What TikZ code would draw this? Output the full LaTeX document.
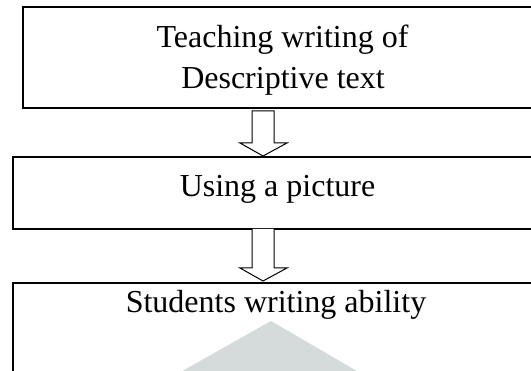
\documentclass[tikz,border=0pt]{standalone}
\usepackage{fontspec}
\setmainfont{Liberation Serif}
\usetikzlibrary{calc}
\definecolor{wmgray}{RGB}{213,219,218}
\tikzset{
  box/.style={draw=black, line width=1.4pt, rectangle, inner sep=0pt, outer sep=0pt, anchor=north west},
  label text/.style={font=\fontsize{32}{40.5}\selectfont, inner sep=0pt, anchor=base},
  blockarrow/.style={draw=black, line width=1pt, fill=white, line join=miter},
}
\begin{document}
\begin{tikzpicture}[x=1pt,y=-1pt]
\useasboundingbox (0,0) rectangle (531,371);
\clip (0,0) rectangle (531,371);
% watermark
\fill[wmgray] (177,374) -- (271,321) -- (362,374) -- cycle;
% boxes
\node[box, minimum width=518pt, minimum height=101pt] (b1) at (23,7) {};
\node[box, minimum width=528pt, minimum height=72pt] (b2) at (13,157) {};
\node[box, minimum width=528pt, minimum height=120pt] (b3) at (13,283) {};
% texts
\node[label text] (t1a) at (282.5,48) {Teaching writing of};
\node[label text] (t1b) at (283,88.5) {Descriptive text};
\node[label text] (t2) at (277.5,197) {Using a picture};
\node[label text] (t3) at (276,313) {Students writing ability};
% arrow axis
\coordinate (ax) at (263,0);
\coordinate (a1s) at (ax |- b1.south);
\coordinate (a1e) at (ax |- b2.north);
\coordinate (a2s) at (ax |- b2.south);
\coordinate (a2e) at (ax |- b3.north);
% arrows
\draw[blockarrow] ($(a1s)+(-11,3)$) -- ($(a1e)+(-11,-14)$) -- ($(a1e)+(-23,-14)$) -- ($(a1e)+(0,-1)$)
  -- ($(a1e)+(24,-14)$) -- ($(a1e)+(11,-14)$) -- ($(a1s)+(11,3)$) -- cycle;
\draw[blockarrow] ($(a2s)+(-11,0)$) -- ($(a2e)+(-11,-15)$) -- ($(a2e)+(-23,-15)$) -- ($(a2e)+(0,-2)$)
  -- ($(a2e)+(24,-15)$) -- ($(a2e)+(11,-15)$) -- ($(a2s)+(11,0)$);
\end{tikzpicture}
\end{document}
